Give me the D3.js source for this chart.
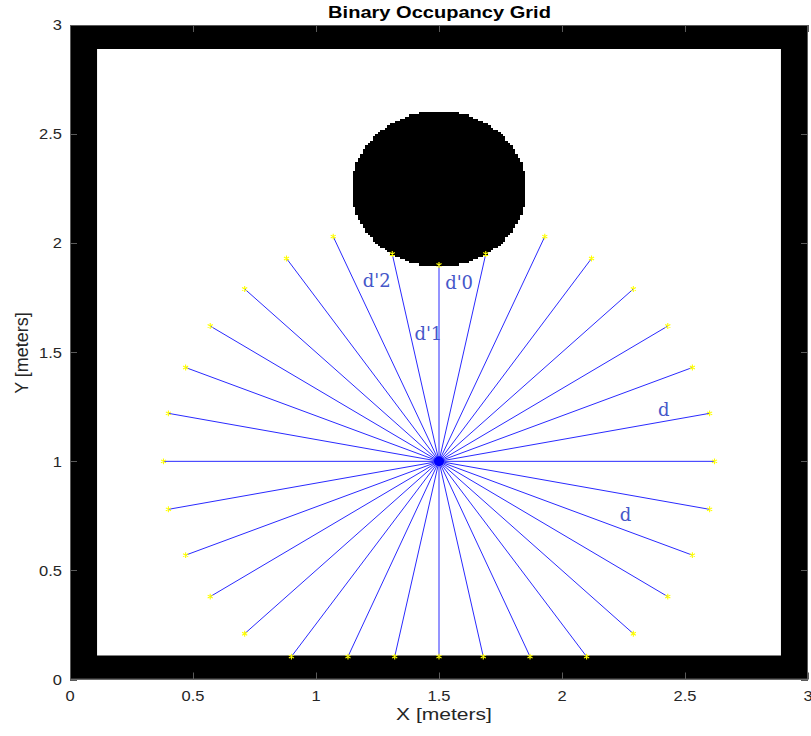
<!DOCTYPE html>
<html>
<head>
<meta charset="utf-8">
<title>Binary Occupancy Grid</title>
<script src="https://d3js.org/d3.v7.min.js"></script>
<style>
body{margin:0;background:#fff;}
svg text{font-family:"Liberation Sans",Arial,Helvetica,sans-serif;}
</style>
</head>
<body>
<svg class="chart" xmlns="http://www.w3.org/2000/svg"></svg>
<script>
// ticks
var xTicks=[0,0.5,1,1.5,2,2.5,3];
var yTicks=[0,0.5,1,1.5,2,2.5,3];

// map: size in meters and wall thickness
var mapSize=[3,3];
var wallThickness=0.11;
// round obstacle: centre x, centre y, radius
var obstacle=[1.5,2.25,0.355];
var gridRes=0.01;

// sensor position and ray end points (meters)
var sensor=[1.5,1.0];
var rayEndX=[2.62,2.60,2.53,2.43,2.29,2.12,1.93,1.69,1.50,1.31,1.07,0.88,0.71,0.57,0.47,0.40,
             0.38,0.40,0.47,0.57,0.71,0.90,1.13,1.32,1.50,1.68,1.87,2.10,2.29,2.43,2.53,2.60];
var rayEndY=[1.00,1.22,1.43,1.62,1.79,1.93,2.03,1.95,1.90,1.95,2.03,1.93,1.79,1.62,1.43,1.22,
             1.00,0.78,0.57,0.38,0.21,0.105,0.105,0.105,0.105,0.105,0.105,0.105,0.21,0.38,0.57,0.78];

// annotations
var annText=["d'2","d'1","d'0","d","d"];
var annX=[1.19,1.40,1.525,2.39,2.235];
var annY=[1.80,1.556,1.79,1.209,0.728];

var width=811,height=736;
var pLeft=70,pRight=808,pTop=25,pBottom=679.5;

var chart=d3.select(".chart").attr("width",width).attr("height",height);

var x=d3.scaleLinear().domain([0,mapSize[0]]).range([pLeft,pRight]);
var y=d3.scaleLinear().domain([0,mapSize[1]]).range([pBottom,pTop]);

// walls: black area, white free space inside
chart.append("rect")
	.attr("x",x(0)).attr("y",y(mapSize[1]))
	.attr("width",x(mapSize[0])-x(0)).attr("height",y(0)-y(mapSize[1]))
	.attr("fill","black");
chart.append("rect")
	.attr("x",x(wallThickness)).attr("y",y(mapSize[1]-wallThickness))
	.attr("width",x(mapSize[0]-wallThickness)-x(wallThickness))
	.attr("height",y(wallThickness)-y(mapSize[1]-wallThickness))
	.attr("fill","white");

// obstacle drawn cell row by cell row so the edge is stepped like the grid
var rows=[];
var j0=Math.floor((obstacle[1]-obstacle[2])/gridRes),j1=Math.ceil((obstacle[1]+obstacle[2])/gridRes);
for(var j=j0;j<j1;j++){
	var yc=(j+0.5)*gridRes-obstacle[1];
	if(Math.abs(yc)>obstacle[2]) continue;
	var w=Math.sqrt(obstacle[2]*obstacle[2]-yc*yc);
	var i0=Math.ceil((obstacle[0]-w)/gridRes-0.5),i1=Math.floor((obstacle[0]+w)/gridRes-0.5);
	rows.push({y0:j*gridRes,x0:i0*gridRes,x1:(i1+1)*gridRes});
}
chart.append("g").attr("class","obstacle").selectAll("rect").data(rows).enter()
	.append("rect")
	.attr("x",function(d){return x(d.x0);})
	.attr("y",function(d){return y(d.y0+gridRes);})
	.attr("width",function(d){return x(d.x1)-x(d.x0);})
	.attr("height",function(d){return y(d.y0)-y(d.y0+gridRes)+0.6;})
	.attr("fill","black")
	.attr("shape-rendering","crispEdges");

// rays
var rays=rayEndX.map(function(v,i){return {x:v,y:rayEndY[i]};});
chart.append("g").selectAll("line").data(rays).enter()
	.append("line")
	.attr("x1",x(sensor[0])).attr("y1",y(sensor[1]))
	.attr("x2",function(d){return x(d.x);})
	.attr("y2",function(d){return y(d.y);})
	.attr("stroke","#2a2aff")
	.attr("stroke-width",1);

chart.append("circle")
	.attr("cx",x(sensor[0])).attr("cy",y(sensor[1]))
	.attr("r",5).attr("fill","#0000ff");

// hit markers
var star=d3.symbol().type(d3.symbolAsterisk).size(24);
chart.append("g").selectAll("path").data(rays).enter()
	.append("path")
	.attr("d",star)
	.attr("transform",function(d){return "translate("+x(d.x)+","+y(d.y)+")";})
	.attr("fill","none")
	.attr("stroke","#ffff00")
	.attr("stroke-width",1.1);

// annotations
chart.append("g").selectAll("text").data(annText).enter()
	.append("text")
	.attr("x",function(d,i){return x(annX[i]);})
	.attr("y",function(d,i){return y(annY[i]);})
	.attr("fill","#4657c9")
	.style("font-family","Georgia,'DejaVu Serif',serif")
	.attr("font-size","18px")
	.text(function(d){return d;});

// axes box and inward ticks
var axisColor="#5a5a5a";
chart.append("rect")
	.attr("x",pLeft+0.5).attr("y",pTop+0.5)
	.attr("width",pRight-pLeft-1).attr("height",pBottom-pTop-1)
	.attr("fill","none").attr("stroke",axisColor).attr("stroke-width",1);

var tickLen=7;
var tk=chart.append("g").attr("stroke",axisColor).attr("stroke-width",1);
xTicks.forEach(function(t){
	var px=Math.round(x(t))+0.5;
	tk.append("line").attr("x1",px).attr("x2",px).attr("y1",pBottom).attr("y2",pBottom-tickLen);
	tk.append("line").attr("x1",px).attr("x2",px).attr("y1",pTop).attr("y2",pTop+tickLen);
});
yTicks.forEach(function(t){
	var py=Math.round(y(t))+0.5;
	tk.append("line").attr("y1",py).attr("y2",py).attr("x1",pLeft).attr("x2",pLeft+tickLen);
	tk.append("line").attr("y1",py).attr("y2",py).attr("x1",pRight).attr("x2",pRight-tickLen);
});

// tick labels (text looks a bit stretched sideways in the original)
chart.append("g").selectAll("g").data(xTicks).enter()
	.append("g")
	.attr("transform",function(d){return "translate("+x(d)+",701) scale(1.1,1)";})
	.append("text")
	.attr("text-anchor","middle")
	.attr("font-size","15px")
	.attr("fill","#262626")
	.text(function(d){return d;});

chart.append("g").selectAll("g").data(yTicks).enter()
	.append("g")
	.attr("transform",function(d){return "translate(62,"+y(d)+") scale(1.1,1)";})
	.append("text")
	.attr("text-anchor","end")
	.attr("dy","0.35em")
	.attr("font-size","15px")
	.attr("fill","#262626")
	.text(function(d){return d;});

// axis labels and title
chart.append("g").attr("transform","translate(444,720) scale(1.24,1)")
	.append("text")
	.attr("text-anchor","middle")
	.attr("font-size","17px")
	.attr("fill","#262626")
	.text("X [meters]");

chart.append("g").attr("transform","translate(28,353) rotate(-90)")
	.append("text")
	.attr("text-anchor","middle")
	.attr("font-size","18px")
	.attr("fill","#262626")
	.text("Y [meters]");

chart.append("g").attr("transform","translate(439.5,18) scale(1.18,1)")
	.append("text")
	.attr("text-anchor","middle")
	.attr("font-size","17px")
	.attr("font-weight","bold")
	.attr("fill","black")
	.text("Binary Occupancy Grid");
</script>
</body>
</html>
